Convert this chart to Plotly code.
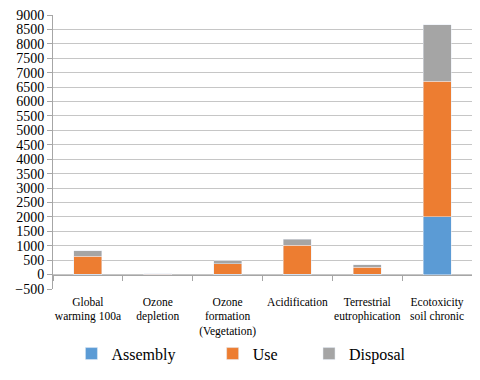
import plotly.graph_objects as go

categories = ["Global<br>warming 100a", "Ozone<br>depletion", "Ozone<br>formation<br>(Vegetation)",
              "Acidification", "Terrestrial<br>eutrophication", "Ecotoxicity<br>soil chronic"]
assembly = [10, 2, 5, 10, 5, 2000]
use = [620, 5, 370, 1000, 250, 4700]
disposal = [200, 25, 105, 210, 85, 1970]

y_ticks = list(range(-500, 9001, 500))

serif = "Liberation Serif"

fig = go.Figure()
fig.add_trace(go.Bar(x=categories, y=assembly, name="Assembly", marker=dict(color="#5B9BD5"),
                     legend="legend"))
fig.add_trace(go.Bar(x=categories, y=use, name="Use", marker=dict(color="#ED7D31"),
                     legend="legend2"))
fig.add_trace(go.Bar(x=categories, y=disposal, name="Disposal", marker=dict(color="#A5A5A5"),
                     legend="legend3"))
# invisible trace to carry the category axis drawn at y = 0
fig.add_trace(go.Scatter(x=categories, y=[None] * len(categories), xaxis="x2",
                         showlegend=False, hoverinfo="skip"))

leg = dict(orientation="h", xanchor="left", y=-0.236, yanchor="middle",
           font=dict(size=16, family=serif), itemwidth=30, bgcolor="rgba(0,0,0,0)")

# the page body has an 8px margin, so the figure is a bit smaller than the window
fig.update_layout(
    width=472, height=372,
    barmode="stack", bargap=0.6,
    plot_bgcolor="white", paper_bgcolor="white",
    margin=dict(l=45, r=8, t=7, b=91, autoexpand=False),
    font=dict(family=serif, color="#000000"),
    xaxis=dict(showgrid=False, showline=False, ticks="", automargin=False,
               tickfont=dict(size=11.5, family=serif), ticklabelstandoff=4),
    xaxis2=dict(overlaying="x", matches="x", anchor="free", position=500 / 9500,
                showline=True, linecolor="#A6A6A6", linewidth=1, ticks="outside",
                tickson="boundaries", ticklen=5, tickcolor="#A6A6A6",
                showticklabels=False, showgrid=False),
    yaxis=dict(range=[-500, 9000], tickvals=y_ticks, showgrid=True, gridcolor="#C6C6C6",
               zeroline=False, showline=True, linecolor="#A6A6A6", ticks="outside",
               ticklen=5, tickcolor="#A6A6A6", automargin=False, ticklabeloverflow="allow",
               tickfont=dict(size=14, family=serif)),
    legend=dict(leg, x=0.044),
    legend2=dict(leg, x=0.381),
    legend3=dict(leg, x=0.611),
)

fig.write_html("out.html")
